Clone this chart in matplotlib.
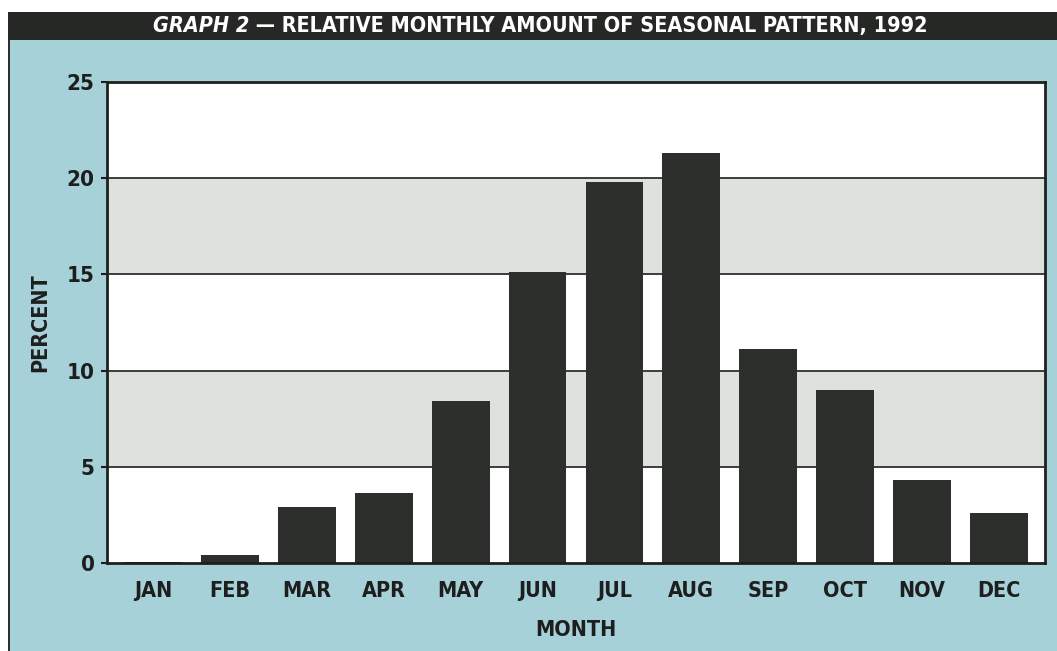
import matplotlib
matplotlib.use("Agg")
import matplotlib.pyplot as plt
from matplotlib.patches import Rectangle

months = ["JAN", "FEB", "MAR", "APR", "MAY", "JUN",
          "JUL", "AUG", "SEP", "OCT", "NOV", "DEC"]
percent = [0.05, 0.4, 2.9, 3.65, 8.4, 15.1, 19.8, 21.3, 11.1, 9.0, 4.3, 2.6]
y_ticks = [0, 5, 10, 15, 20, 25]

plt.rcParams["font.family"] = ["DejaVu Sans"]
plt.rcParams["font.stretch"] = "condensed"
plt.rcParams["font.weight"] = "bold"

BLUE = "#a6d1d9"
DARK = "#2c2f2c"
BAND = "#dde2dd"
INK = "#1e1e1e"
W, H = 1057, 651

fig = plt.figure(figsize=(W / 100, H / 100), dpi=100)
fig.patch.set_facecolor("white")

# page background panel and title bar, in a full-figure axes behind the chart
bg = fig.add_axes([0, 0, 1, 1], zorder=-10)
bg.set_xlim(0, W)
bg.set_ylim(H, 0)
bg.axis("off")
bg.add_patch(Rectangle((8, 40), W - 8, H - 40, facecolor=BLUE, edgecolor="none"))
bg.add_patch(Rectangle((8, 12), 2, H - 12, facecolor=DARK, edgecolor="none"))
bg.add_patch(Rectangle((8, 12), W - 8, 28, facecolor="#262826", edgecolor="none"))

t1 = bg.text(0, 26, "GRAPH 2", color="white", fontsize=15.5,
             fontstyle="italic", fontweight="bold", ha="left", va="center")
t2 = bg.annotate(" \u2014 RELATIVE MONTHLY AMOUNT OF SEASONAL PATTERN, 1992",
                 xy=(1, 0.5), xycoords=t1, color="white", fontsize=15.5,
                 fontweight="bold", ha="left", va="center")

ax = fig.add_axes([107 / W, 88 / H, (1045 - 107) / W, (563 - 82) / H])
ax.set_facecolor("white")

# alternating horizontal bands
for lo in (5, 15):
    ax.axhspan(lo, lo + 5, facecolor=BAND, edgecolor="none", zorder=0)
for y in (5, 10, 15, 20):
    ax.axhline(y, color="#3a3d3a", linewidth=1.4, zorder=1)

x = list(range(len(months)))
ax.bar(x, percent, width=0.75, color=DARK, zorder=2)

ax.set_xlim(-0.6, 11.6)
ax.set_ylim(0, 25)
ax.set_yticks(y_ticks)
ax.set_yticklabels([str(v) for v in y_ticks])
ax.set_xticks(x)
ax.set_xticklabels(months)
ax.tick_params(axis="x", length=0, pad=13, labelsize=15.5, colors=INK)
ax.tick_params(axis="y", length=4, width=1.5, pad=5, labelsize=16,
               colors=INK)
for lab in ax.get_xticklabels() + ax.get_yticklabels():
    lab.set_fontweight("bold")

for s in ax.spines.values():
    s.set_color("#1e201e")
    s.set_linewidth(2)

ax.set_xlabel("MONTH", fontsize=15.5, fontweight="bold", color=INK,
              labelpad=14)
ax.set_ylabel("PERCENT", fontsize=15.5, fontweight="bold", color=INK,
              labelpad=12)

# centre the two-part title on the bar
fig.canvas.draw()
r = fig.canvas.get_renderer()
e1 = t1.get_window_extent(r)
e2 = t2.get_window_extent(r)
total = e2.x1 - e1.x0
t1.set_x(540 - total / 2)

fig.savefig("out.png", dpi=100, facecolor=fig.get_facecolor())
